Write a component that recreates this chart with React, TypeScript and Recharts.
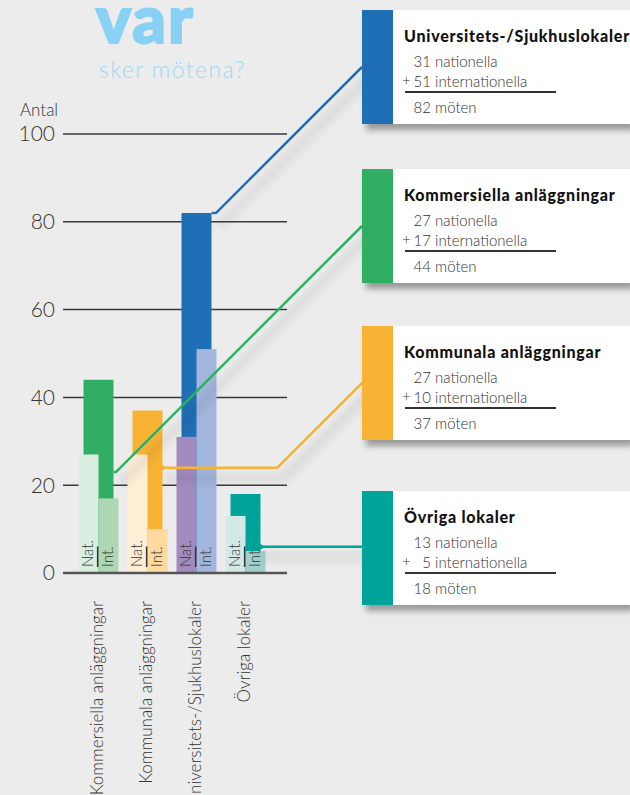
import React from 'react'
import { BarChart, Bar, XAxis, YAxis, CartesianGrid, Cell } from 'recharts'

const categories = [
  'Kommersiella anläggningar',
  'Kommunala anläggningar',
  'Universitets-/Sjukhuslokaler',
  'Övriga lokaler',
]
const nationella = [27, 27, 31, 13]
const internationella = [17, 10, 51, 5]
const totals = [44, 37, 82, 18]
const yTicks = [0, 20, 40, 60, 80, 100]

const totalColors = ['#2fae64', '#f8b334', '#1f6fb7', '#00a39a']
const natColors = ['#d9ede0', '#feeed6', '#a38bc0', '#d4e9e6']
const intColors = ['#aed8b4', '#fed9a0', '#a2b6de', '#a0d0cc']

// where each connector leaves its bar (axis units) and the boxes it runs to
const connectorFrom = [23, 24, 82, 6]
const BOX_X = 362
const BOX_H = 114
const boxTops = [10, 169, 326, 491]

const FONT = 'Lato, "Open Sans", sans-serif'
const TEXT = '#333'

const data = categories.map((name, i) => ({
  name,
  nat: nationella[i],
  int: internationella[i],
  total: totals[i],
}))

// boxes are stacked from largest total to smallest
const order = categories.map((_, i) => i).sort((a, b) => totals[b] - totals[a])
const rankOf = categories.map((_, i) => order.indexOf(i))

const tagShape = (tag: string, colors: string[], overline = false) => (p: any) => {
  const { x, y, width, height, index } = p
  const cx = x + width / 2 - 1
  const by = y + height - 6
  return (
    <g>
      <rect x={x} y={y} width={width} height={height} fill={colors[index]} />
      <text
        transform={`translate(${cx},${by}) rotate(-90)`}
        dy="0.36em"
        fontSize={15}
        fontFamily={FONT}
        fontWeight={300}
        fill={TEXT}
        textDecoration={overline ? 'overline' : undefined}
      >
        {tag}
      </text>
    </g>
  )
}

const Connector = (p: any) => {
  const { x, y, width, height, index, payload } = p
  const sy = y + height - (connectorFrom[index] / payload.total) * height
  const sx = x + width
  const ey = boxTops[rankOf[index]] + BOX_H / 2
  const ex = BOX_X
  const elbow = Math.min(ex, Math.max(sx, ex - (sy - ey)))
  const c = totalColors[index]
  const knob = elbow > sx + 6
  return (
    <g style={{ filter: 'drop-shadow(7px 10px 5px rgba(0,0,0,0.25))' }}>
      <path d={`M${sx},${sy} L${elbow},${sy} L${ex},${ey}`} stroke={c} strokeWidth={2.5} fill="none" />
      {knob && <circle cx={sx} cy={sy} r={2.5} fill={c} />}
    </g>
  )
}

const CatTick = ({ x, y, payload }: any) => (
  <text
    transform={`translate(${x - 1},${y + 26}) rotate(-90)`}
    textAnchor="end"
    dy="0.36em"
    fontSize={17}
    fontFamily={FONT}
    fontWeight={300}
    fill={TEXT}
  >
    {payload.value}
  </text>
)

function InfoBox({ i }: { i: number }) {
  const top = boxTops[rankOf[i]]
  const num = (n: number, plus = false) => (
    <>
      {plus && <span style={{ position: 'absolute', left: -1, top: 0, fontSize: 15 }}>+</span>}
      <span style={{ display: 'inline-block', width: 28, textAlign: 'right', fontSize: 15 }}>{n}</span>
    </>
  )
  const row = (t: number, content: React.ReactNode) => (
    <div style={{ position: 'absolute', left: 41, top: t, lineHeight: 1, whiteSpace: 'nowrap', color: TEXT, fontWeight: 300 }}>
      {content}
    </div>
  )
  return (
    <div
      style={{
        position: 'absolute',
        left: BOX_X,
        top,
        width: 630 - BOX_X,
        height: BOX_H,
        background: '#fff',
        boxShadow: '4px 6px 6px rgba(0,0,0,0.35)',
        overflow: 'hidden',
        fontFamily: FONT,
      }}
    >
      <div style={{ position: 'absolute', left: 0, top: 0, width: 31, height: BOX_H, background: totalColors[i] }} />
      <div
        style={{
          position: 'absolute',
          left: 42,
          top: 18,
          fontSize: 16,
          fontWeight: 900,
          letterSpacing: 0.75,
          lineHeight: 1,
          color: '#111',
          whiteSpace: 'nowrap',
        }}
      >
        {categories[i]}
      </div>
      {row(43, <>{num(nationella[i])}<span style={{ fontSize: 15 }}> nationella</span></>)}
      {row(63, <>{num(internationella[i], true)}<span style={{ fontSize: 15 }}> internationella</span></>)}
      <div style={{ position: 'absolute', left: 43, top: 81, width: 151, height: 1.5, background: TEXT }} />
      {row(89, <>{num(totals[i])}<span style={{ fontSize: 15 }}> möten</span></>)}
    </div>
  )
}

export default function App() {
  const pad = { left: 10.5, right: 17.5 }
  return (
    <div style={{ position: 'absolute', left: 0, top: 0, width: 630, height: 795, background: '#ececec', overflow: 'hidden', fontFamily: FONT }}>
      <div
        style={{
          position: 'absolute',
          left: 96,
          top: 0,
          fontSize: 66,
          fontWeight: 900,
          lineHeight: '36px',
          color: '#88d1f5',
          WebkitTextStroke: '2px #88d1f5',
          letterSpacing: 2,
        }}
      >
        var
      </div>
      <div style={{ position: 'absolute', left: 99, top: 58, fontSize: 23, fontWeight: 300, lineHeight: 1, color: '#9dd8f5', letterSpacing: 1.4 }}>
        sker mötena?
      </div>
      <div style={{ position: 'absolute', left: 20, top: 101, fontSize: 17, fontWeight: 300, lineHeight: 1, color: TEXT }}>Antal</div>

      <div style={{ position: 'absolute', left: 0, top: 0 }}>
        <BarChart width={630} height={795} data={data} barGap={0} margin={{ top: 134, right: 343, bottom: 0, left: 0 }}>
          <CartesianGrid vertical={false} stroke="#3a3a3a" strokeWidth={1.5} />
          <XAxis
            xAxisId="pair"
            dataKey="name"
            interval={0}
            height={222}
            padding={pad}
            tickLine={false}
            tickSize={0}
            axisLine={{ stroke: '#555', strokeWidth: 2.5 }}
            tick={<CatTick />}
          />
          <XAxis xAxisId="tot" dataKey="name" orientation="top" height={0} padding={pad} hide />
          <XAxis xAxisId="conn" dataKey="name" orientation="top" height={0} padding={pad} hide />
          <YAxis
            domain={[0, 100]}
            ticks={yTicks}
            width={63}
            axisLine={false}
            tickLine={false}
            tick={{ fontSize: 21, fill: TEXT, fontWeight: 300, fontFamily: FONT }}
          />
          <Bar xAxisId="tot" dataKey="total" barSize={30} isAnimationActive={false}>
            {data.map((_, i) => (
              <Cell key={i} fill={totalColors[i]} />
            ))}
          </Bar>
          <Bar xAxisId="pair" dataKey="nat" barSize={20} isAnimationActive={false} shape={tagShape('Nat.', natColors)} />
          <Bar xAxisId="pair" dataKey="int" barSize={20} isAnimationActive={false} shape={tagShape('Int.', intColors, true)} />
          <Bar xAxisId="conn" dataKey="total" barSize={30} fill="transparent" isAnimationActive={false} shape={Connector} />
        </BarChart>
      </div>

      {categories.map((_, i) => (
        <InfoBox key={i} i={i} />
      ))}
    </div>
  )
}
